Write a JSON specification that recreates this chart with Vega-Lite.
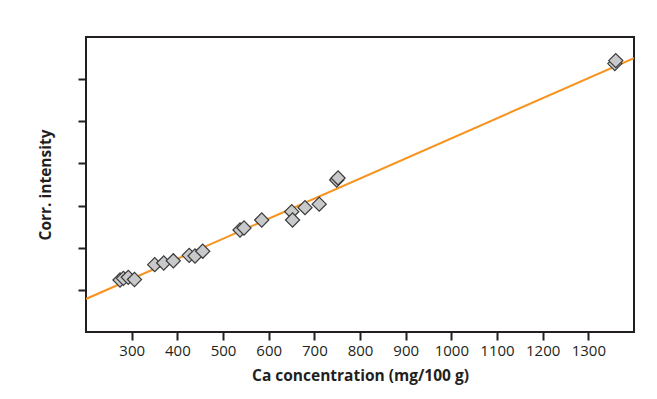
{
  "$schema": "https://vega.github.io/schema/vega-lite/v6.json",
  "width": 548,
  "height": 295,
  "autosize": {"type": "none"},
  "padding": {"left": 86, "top": 37, "right": 23, "bottom": 67},
  "background": "white",
  "datasets": {
    "points": [
      {"ca": 274.5, "intensity": 1.234},
      {"ca": 282, "intensity": 1.274},
      {"ca": 292.6, "intensity": 1.298},
      {"ca": 306.2, "intensity": 1.246},
      {"ca": 350.5, "intensity": 1.597},
      {"ca": 370.2, "intensity": 1.637},
      {"ca": 391.2, "intensity": 1.69},
      {"ca": 426, "intensity": 1.82},
      {"ca": 438.7, "intensity": 1.803},
      {"ca": 455.6, "intensity": 1.917},
      {"ca": 537.3, "intensity": 2.42},
      {"ca": 546, "intensity": 2.468},
      {"ca": 584.8, "intensity": 2.658},
      {"ca": 650.5, "intensity": 2.855},
      {"ca": 652.3, "intensity": 2.658},
      {"ca": 679.6, "intensity": 2.95},
      {"ca": 710.7, "intensity": 3.033},
      {"ca": 749, "intensity": 3.607},
      {"ca": 752, "intensity": 3.655},
      {"ca": 1358, "intensity": 6.37},
      {"ca": 1360, "intensity": 6.44}
    ],
    "fit": [
      {"ca": 200, "intensity": 0.784},
      {"ca": 1400, "intensity": 6.5}
    ]
  },
  "config": {
    "view": {"stroke": "#231f20", "strokeWidth": 2},
    "font": "Open Sans"
  },
  "encoding": {
    "x": {
      "field": "ca",
      "type": "quantitative",
      "scale": {"domain": [200, 1400], "nice": false, "zero": false},
      "axis": {
        "title": "Ca concentration (mg/100 g)",
        "values": [300, 400, 500, 600, 700, 800, 900, 1000, 1100, 1200, 1300],
        "format": "d",
        "grid": false,
        "domain": false,
        "tickColor": "#231f20",
        "tickWidth": 2,
        "tickSize": 8,
        "labelFont": "Open Sans",
        "labelFontSize": 15,
        "labelColor": "#231f20",
        "labelPadding": 3,
        "titleFont": "Open Sans",
        "titleFontSize": 15.5,
        "titleFontWeight": "bold",
        "titleColor": "#231f20",
        "titlePadding": 10
      }
    },
    "y": {
      "field": "intensity",
      "type": "quantitative",
      "scale": {"domain": [0, 7], "nice": false, "zero": false},
      "axis": {
        "title": "Corr. intensity",
        "values": [1, 2, 3, 4, 5, 6],
        "labels": false,
        "grid": false,
        "domain": false,
        "tickColor": "#231f20",
        "tickWidth": 2,
        "tickSize": 8,
        "titleFont": "Open Sans",
        "titleFontSize": 15.5,
        "titleFontWeight": "bold",
        "titleColor": "#231f20",
        "titlePadding": 24
      }
    }
  },
  "layer": [
    {
      "data": {"name": "fit"},
      "mark": {"type": "line", "color": "#f7931e", "strokeWidth": 2, "clip": true}
    },
    {
      "data": {"name": "points"},
      "mark": {
        "type": "point",
        "shape": "diamond",
        "filled": true,
        "fill": "#c8c9cb",
        "fillOpacity": 1,
        "stroke": "#3a3a3a",
        "strokeWidth": 1.2,
        "opacity": 1,
        "size": 200
      }
    }
  ]
}
